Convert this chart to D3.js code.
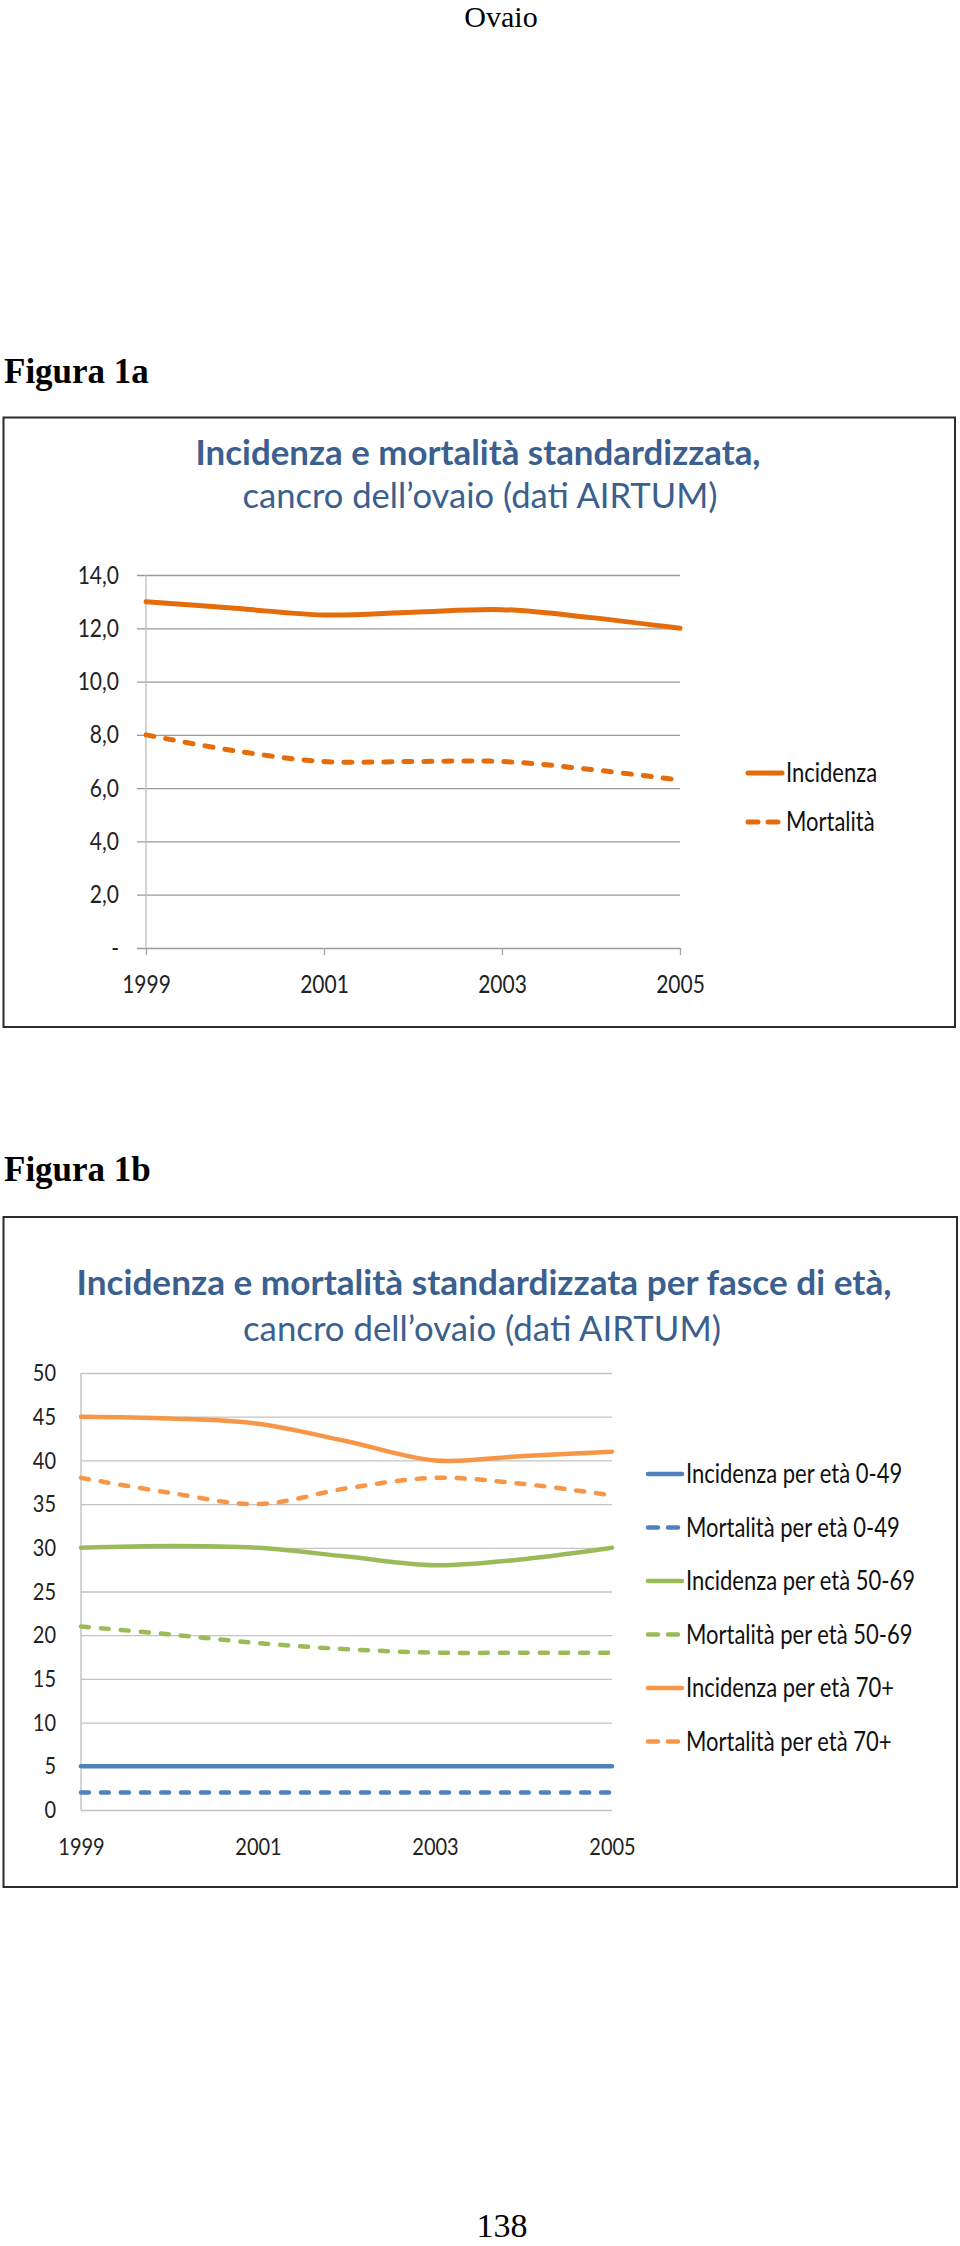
<!DOCTYPE html>
<html>
<head>
<meta charset="utf-8">
<title>Ovaio</title>
<script src="https://cdn.jsdelivr.net/npm/d3@7"></script>
<style>
  body { margin: 0; background: #fff; }
  svg { display: block; }
</style>
</head>
<body>
<div id="page"></div>
<script>
// years on x axis
const aYears = [1999, 2000, 2001, 2002, 2003, 2004, 2005];
const aYearTicks = [1999, 2001, 2003, 2005];

// Figura 1a - standardized rates, all ages
const aIncidenza = [13.0, 12.75, 12.5, 12.6, 12.7, 12.4, 12.0];
const aMortalita = [8.0, 7.4, 7.0, 7.0, 7.0, 6.7, 6.3];
const aTicks1a = [0, 2, 4, 6, 8, 10, 12, 14];

// Figura 1b - standardized rates by age class
const aInc049 = [5, 5, 5, 5, 5, 5, 5];
const aMort049 = [2, 2, 2, 2, 2, 2, 2];
const aInc5069 = [30.0, 30.2, 30.0, 29.0, 28.0, 28.7, 30.0];
const aMort5069 = [21.0, 20.1, 19.1, 18.4, 18.0, 18.0, 18.0];
const aInc70 = [45.0, 44.8, 44.2, 42.2, 40.0, 40.5, 41.0];
const aMort70 = [38.0, 36.3, 35.0, 36.8, 38.0, 37.3, 36.0];
const aTicks1b = [0, 5, 10, 15, 20, 25, 30, 35, 40, 45, 50];

const aSeries1a = [
   { name: "Incidenza", values: aIncidenza, color: "#E46C0A", dash: false },
   { name: "Mortalità", values: aMortalita, color: "#E46C0A", dash: true }
];
const aSeries1b = [
   { name: "Incidenza per età 0-49", values: aInc049, color: "#4F81BD", dash: false },
   { name: "Mortalità per età 0-49", values: aMort049, color: "#4F81BD", dash: true },
   { name: "Incidenza per età 50-69", values: aInc5069, color: "#9BBB59", dash: false },
   { name: "Mortalità per età 50-69", values: aMort5069, color: "#9BBB59", dash: true },
   { name: "Incidenza per età 70+", values: aInc70, color: "#F79646", dash: false },
   { name: "Mortalità per età 70+", values: aMort70, color: "#F79646", dash: true }
];

const sSans = "Lato, 'Open Sans', sans-serif";
const sSerif = "'Liberation Serif', 'Times New Roman', serif";
const sTitleColor = "#3B5F8E";
const fStretch = 1.2; // chart texts look taller than wide in the original

let d3Svg = d3.select("#page").append("svg")
   .attr("width", 960)
   .attr("height", 2246);

d3Svg.append("rect").attr("width", 960).attr("height", 2246).attr("fill", "#fff");

// page texts (document around the charts)
d3Svg.append("text").text("Ovaio")
   .attr("x", 501).attr("y", 27)
   .attr("text-anchor", "middle")
   .attr("font-family", sSerif).attr("font-size", 30);
d3Svg.append("text").text("Figura 1a")
   .attr("x", 4).attr("y", 383)
   .attr("font-family", sSerif).attr("font-size", 35).attr("font-weight", "bold");
d3Svg.append("text").text("Figura 1b")
   .attr("x", 4).attr("y", 1181)
   .attr("font-family", sSerif).attr("font-size", 35).attr("font-weight", "bold");
d3Svg.append("text").text("138")
   .attr("x", 502).attr("y", 2237)
   .attr("text-anchor", "middle")
   .attr("font-family", sSerif).attr("font-size", 34);

/**
 * Stretch texts vertically round their own anchor point
 * @param d3Text selection of text elements
 */
function Stretch(d3Text) {
   d3Text.each(function () {
      const e = d3.select(this);
      const x = +e.attr("x") || 0;
      const y = +e.attr("y") || 0;
      e.attr("x", 0).attr("y", 0)
         .attr("transform", `translate(${x},${y}) scale(1,${fStretch})`);
   });
}

/**
 * Draw one excel like line chart
 * @param {object} o options, frame, titles, plot box, scales and legend
 */
function DrawChart(o) {
   let g = d3Svg.append("g");

   // frame round the chart
   g.append("rect")
      .attr("x", o.frame[0]).attr("y", o.frame[1])
      .attr("width", o.frame[2] - o.frame[0]).attr("height", o.frame[3] - o.frame[1])
      .attr("fill", "none").attr("stroke", "#2b2b2b").attr("stroke-width", 2);

   // titles, two lines
   o.titles.forEach(t => {
      g.append("text").text(t.text)
         .attr("x", t.x).attr("y", t.y)
         .attr("text-anchor", "middle")
         .attr("textLength", t.width).attr("lengthAdjust", "spacingAndGlyphs")
         .attr("font-family", sSans).attr("font-size", 34)
         .attr("font-weight", t.bold ? "bold" : "normal")
         .attr("fill", sTitleColor);
   });

   const d3XScale = d3.scaleLinear().domain([1999, 2005]).range([o.left, o.right]);
   const d3YScale = d3.scaleLinear().domain([0, o.max]).range([o.bottom, o.top]);

   // y axis as grid lines
   const iGridStart = o.left - o.tickOut;
   let gY = g.append("g")
      .attr("transform", `translate(${iGridStart},0)`)
      .call(d3.axisLeft(d3YScale)
         .tickValues(o.yTicks)
         .tickSize(-(o.right - iGridStart))
         .tickPadding(o.yPadding)
         .tickFormat(o.yFormat));
   gY.select(".domain").remove();
   gY.selectAll(".tick line").attr("stroke", o.gridColor).attr("stroke-width", 1.3);
   gY.selectAll(".tick text")
      .attr("font-family", sSans).attr("font-size", o.fontSize).attr("fill", "#222")
      .call(Stretch);

   // vertical axis line at first year
   g.append("line")
      .attr("x1", d3XScale(1999)).attr("x2", d3XScale(1999))
      .attr("y1", d3YScale(o.max)).attr("y2", d3YScale(0))
      .attr("stroke", "#bdbdbd").attr("stroke-width", 1.3);

   // x axis
   let gX = g.append("g")
      .attr("transform", `translate(0,${o.bottom})`)
      .call(d3.axisBottom(d3XScale)
         .tickValues(aYearTicks)
         .tickSize(o.xTick)
         .tickSizeOuter(0)
         .tickFormat(d3.format("d")));
   gX.select(".domain").remove();
   gX.selectAll(".tick line").attr("stroke", "#a6a6a6").attr("stroke-width", 1.3);
   gX.selectAll(".tick text")
      .attr("y", o.xLabelY).attr("dy", 0)
      .attr("font-family", sSans).attr("font-size", o.fontSize).attr("fill", "#222")
      .call(Stretch);

   // series, smoothed lines like excel
   const d3Line = d3.line()
      .x((v, i) => d3XScale(aYears[i]))
      .y(v => d3YScale(v))
      .curve(d3.curveCatmullRom);
   o.series.forEach(s => {
      g.append("path")
         .attr("d", d3Line(s.values))
         .attr("fill", "none")
         .attr("stroke", s.color)
         .attr("stroke-width", o.lineWidth)
         .attr("stroke-linecap", "round")
         .attr("stroke-dasharray", s.dash ? o.dashArray : null);
   });

   // legend
   o.series.forEach((s, i) => {
      const iY = o.legendY + i * o.legendStep;
      g.append("line")
         .attr("x1", o.legendX).attr("x2", o.legendX + 34)
         .attr("y1", iY).attr("y2", iY)
         .attr("stroke", s.color)
         .attr("stroke-width", o.lineWidth)
         .attr("stroke-linecap", "round")
         .attr("stroke-dasharray", s.dash ? o.legendDash : null);
      g.append("text").text(s.name)
         .attr("x", o.legendX + 38).attr("y", iY + 9)
         .attr("font-family", sSans).attr("font-size", 22).attr("fill", "#111")
         .call(Stretch);
   });
}

DrawChart({
   frame: [3.5, 417.5, 955, 1027],
   titles: [
      { text: "Incidenza e mortalità standardizzata,", x: 478, y: 465, width: 565, bold: true },
      { text: "cancro dell’ovaio (dati AIRTUM)", x: 480, y: 508, width: 475, bold: false }
   ],
   left: 146, right: 680, top: 575, bottom: 948, max: 14,
   yTicks: aTicks1a,
   yFormat: v => v === 0 ? "-" : d3.format(".1f")(v).replace(".", ","),
   tickOut: 9, yPadding: 18, xTick: 7, xLabelY: 45,
   gridColor: "#9a9a9a", fontSize: 21,
   lineWidth: 5, dashArray: "8,12", legendDash: "10,10",
   series: aSeries1a,
   legendX: 748, legendY: 773, legendStep: 49
});

DrawChart({
   frame: [3.5, 1217, 957, 1887],
   titles: [
      { text: "Incidenza e mortalità standardizzata per fasce di età,", x: 484, y: 1295, width: 815, bold: true },
      { text: "cancro dell’ovaio (dati AIRTUM)", x: 482, y: 1341, width: 478, bold: false }
   ],
   left: 81, right: 612, top: 1373, bottom: 1810, max: 50,
   yTicks: aTicks1b,
   yFormat: d3.format("d"),
   tickOut: 0, yPadding: 25, xTick: 0, xLabelY: 45,
   gridColor: "#c4c4c4", fontSize: 20,
   lineWidth: 4.5, dashArray: "8,12", legendDash: "10,10",
   series: aSeries1b,
   legendX: 648, legendY: 1474, legendStep: 53.5
});
</script>
</body>
</html>
